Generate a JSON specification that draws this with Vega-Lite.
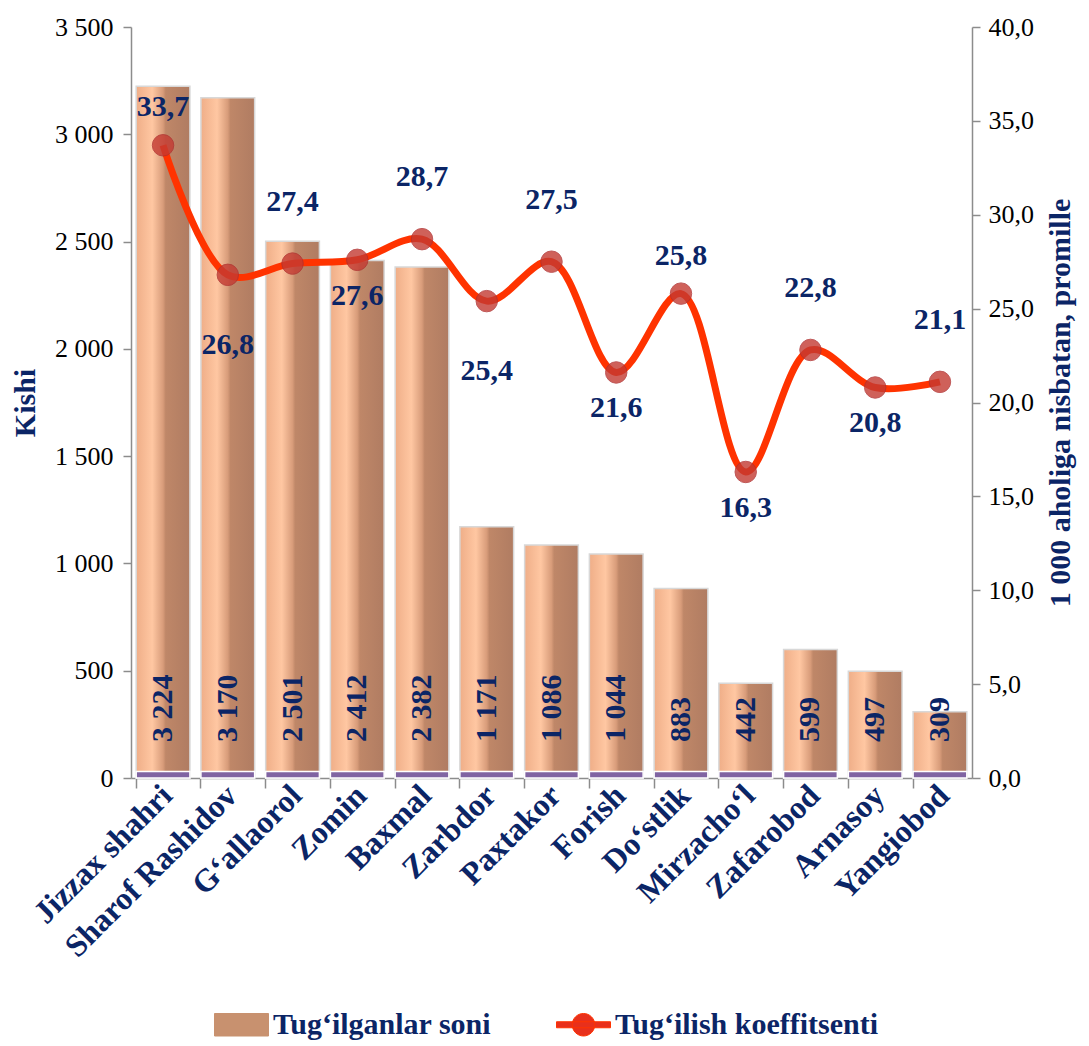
{
  "$schema": "https://vega.github.io/schema/vega-lite/v6.json",
  "width": 841,
  "height": 751,
  "padding": {"left": 10, "top": 14, "right": 5, "bottom": 5},
  "background": "white",
  "config": {
    "locale": {"number": {"decimal": ",", "thousands": " ", "grouping": [3], "currency": ["", ""]}},
    "view": {"stroke": null},
    "font": "Liberation Serif",
    "axis": {"grid": false, "domainColor": "#8C8C8C", "tickColor": "#8C8C8C", "domainWidth": 1.5, "tickWidth": 1.5, "labelFont": "Liberation Serif", "titleFont": "Liberation Serif"}
  },
  "data": {
    "values": [
      {"district": "Jizzax shahri", "births": 3224, "rate": 33.7},
      {"district": "Sharof Rashidov", "births": 3170, "rate": 26.8},
      {"district": "G‘allaorol", "births": 2501, "rate": 27.4},
      {"district": "Zomin", "births": 2412, "rate": 27.6},
      {"district": "Baxmal", "births": 2382, "rate": 28.7},
      {"district": "Zarbdor", "births": 1171, "rate": 25.4},
      {"district": "Paxtakor", "births": 1086, "rate": 27.5},
      {"district": "Forish", "births": 1044, "rate": 21.6},
      {"district": "Do‘stlik", "births": 883, "rate": 25.8},
      {"district": "Mirzacho‘l", "births": 442, "rate": 16.3},
      {"district": "Zafarobod", "births": 599, "rate": 22.8},
      {"district": "Arnasoy", "births": 497, "rate": 20.8},
      {"district": "Yangiobod", "births": 309, "rate": 21.1}
    ]
  },
  "encoding": {
    "x": {
      "field": "district", "type": "nominal", "sort": null,
      "scale": {"paddingInner": 0.17, "paddingOuter": 0.08},
      "axis": {"title": null, "labelAngle": -45, "labelAlign": "right", "labelBaseline": "middle", "labelFont": "Liberation Serif", "labelFontSize": 32, "labelFontWeight": "bold", "labelColor": "#0B2566", "bandPosition": 0, "tickSize": 10, "labelPadding": 2, "labelOffset": 4, "labelLimit": 0}
    }
  },
  "layer": [
    {
      "encoding": {
        "y": {
          "field": "births", "type": "quantitative",
          "scale": {"domain": [0, 3500]},
          "axis": {"title": "Kishi", "titleFont": "Liberation Serif", "titleFontSize": 30, "titleFontWeight": "bold", "titleColor": "#0B2566", "titlePadding": 14, "values": [0, 500, 1000, 1500, 2000, 2500, 3000, 3500], "format": ",.0f", "labelFont": "Liberation Serif", "labelFontSize": 26, "labelColor": "#000000", "tickSize": 8, "labelPadding": 10}
        }
      },
      "layer": [
        {
          "mark": {"type": "bar", "stroke": "#D8D8D8", "strokeWidth": 1.5,
            "fill": {"gradient": "linear", "x1": 0, "y1": 0, "x2": 1, "y2": 0, "stops": [
              {"offset": 0, "color": "#EFAE88"},
              {"offset": 0.3, "color": "#FFC7A2"},
              {"offset": 0.5, "color": "#D89C7A"},
              {"offset": 0.55, "color": "#BF8768"},
              {"offset": 1, "color": "#B07C62"}]}}
        },
        {
          "mark": {"type": "bar", "color": "#8064A2", "stroke": "white", "strokeWidth": 1.5},
          "encoding": {"y": {"datum": 30}, "y2": {"datum": 0}}
        },
        {
          "mark": {"type": "text", "angle": 270, "align": "left", "baseline": "middle", "dx": 36, "fontSize": 30, "fontWeight": "bold", "color": "#0B2566", "font": "Liberation Serif"},
          "encoding": {"y": {"datum": 0}, "text": {"field": "births", "type": "quantitative", "format": ",.0f"}}
        }
      ]
    },
    {
      "encoding": {
        "y": {
          "field": "rate", "type": "quantitative",
          "scale": {"domain": [0, 40]},
          "axis": {"orient": "right", "title": "1 000 aholiga nisbatan, promille", "titleFont": "Liberation Serif", "titleAngle": 270, "titleBaseline": "top", "titleFontSize": 30, "titleFontWeight": "bold", "titleColor": "#0B2566", "titlePadding": 12, "values": [0, 5, 10, 15, 20, 25, 30, 35, 40], "format": ".1f", "labelFont": "Liberation Serif", "labelFontSize": 26, "labelColor": "#000000", "tickSize": 8, "labelPadding": 8}
        }
      },
      "layer": [
        {
          "mark": {"type": "line", "interpolate": "catmull-rom", "strokeWidth": 7},
          "encoding": {
            "color": {
              "datum": "Tug‘ilish koeffitsenti",
              "scale": {"domain": ["Tug‘ilganlar soni", "Tug‘ilish koeffitsenti"], "range": ["#C8916F", "#FF3300"]},
              "legend": {
                "title": null, "orient": "none", "legendX": 95, "legendY": 982, "direction": "horizontal",
                "labelFont": "Liberation Serif", "labelFontSize": 30, "labelFontWeight": "bold", "labelColor": "#0B2566", "labelLimit": 0,
                "columnPadding": 62, "symbolSize": 900, "labelOffset": 16,
                "encode": {
                  "symbols": {
                    "update": {
                      "shape": {"signal": "datum.label == 'Tug‘ilganlar soni' ? 'M-1.8,-0.75L1.8,-0.75L1.8,0.75L-1.8,0.75Z' : 'M-1.8,-0.2L1.8,-0.2L1.8,0.2L-1.8,0.2Z M0.75,0A0.75,0.75 0 1,1 -0.75,0A0.75,0.75 0 1,1 0.75,0Z'"},
                      "fill": {"signal": "datum.label == 'Tug‘ilganlar soni' ? '#C8916F' : '#E8301C'"},
                      "stroke": {"signal": "datum.label == 'Tug‘ilganlar soni' ? '#6E5446' : '#FF3300'"},
                      "strokeWidth": {"value": 1},
                      "fillOpacity": {"value": 1},
                      "opacity": {"value": 1}
                    }
                  }
                }
              }
            }
          }
        },
        {
          "mark": {"type": "point", "filled": true, "size": 460, "color": "#C43A32", "opacity": 0.8, "stroke": "#B03030", "strokeWidth": 1}
        },
        {
          "transform": [{"filter": {"field": "district", "oneOf": ["G‘allaorol", "Baxmal", "Paxtakor", "Zafarobod", "Yangiobod"]}}],
          "mark": {"type": "text", "dy": -62, "fontSize": 30, "fontWeight": "bold", "color": "#0B2566", "font": "Liberation Serif"},
          "encoding": {"text": {"field": "rate", "type": "quantitative", "format": ".1f"}}
        },
        {
          "transform": [{"filter": {"field": "district", "oneOf": ["Jizzax shahri", "Do‘stlik"]}}],
          "mark": {"type": "text", "dy": -38, "fontSize": 30, "fontWeight": "bold", "color": "#0B2566", "font": "Liberation Serif"},
          "encoding": {"text": {"field": "rate", "type": "quantitative", "format": ".1f"}}
        },
        {
          "transform": [{"filter": {"field": "district", "oneOf": ["Zomin", "Forish", "Arnasoy", "Mirzacho‘l"]}}],
          "mark": {"type": "text", "dy": 36, "fontSize": 30, "fontWeight": "bold", "color": "#0B2566", "font": "Liberation Serif"},
          "encoding": {"text": {"field": "rate", "type": "quantitative", "format": ".1f"}}
        },
        {
          "transform": [{"filter": {"field": "district", "oneOf": ["Sharof Rashidov", "Zarbdor"]}}],
          "mark": {"type": "text", "dy": 70, "fontSize": 30, "fontWeight": "bold", "color": "#0B2566", "font": "Liberation Serif"},
          "encoding": {"text": {"field": "rate", "type": "quantitative", "format": ".1f"}}
        }
      ]
    }
  ],
  "resolve": {"scale": {"y": "independent"}}
}
